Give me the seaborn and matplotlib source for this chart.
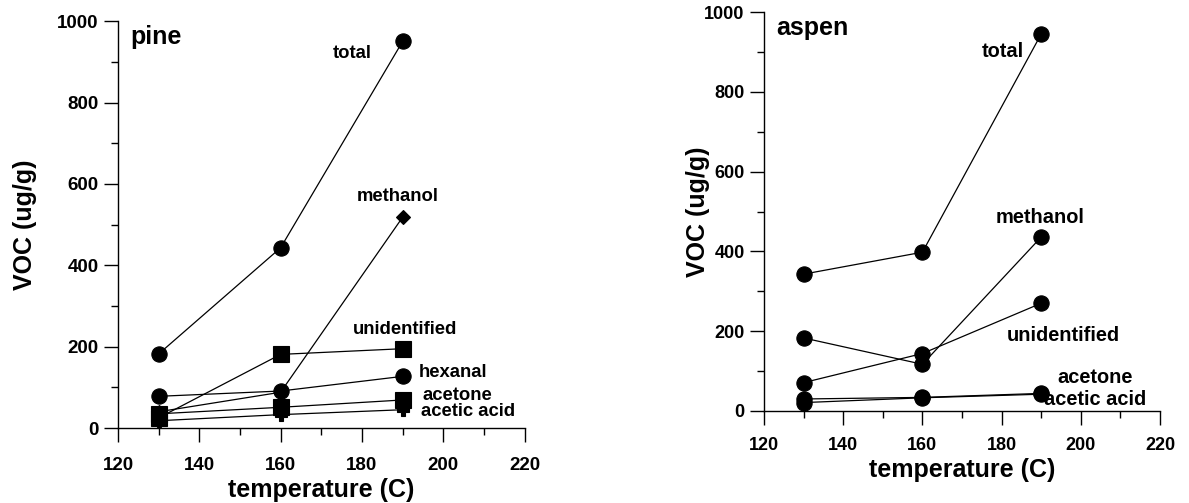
import matplotlib
matplotlib.use("Agg")
import matplotlib.pyplot as plt
import seaborn as sns
import pandas as pd
from matplotlib.ticker import MultipleLocator

sns.set_style("ticks")
plt.rcParams['font.family'] = ['Liberation Sans', 'DejaVu Sans']
plt.rcParams['font.weight'] = 'bold'
plt.rcParams['text.color'] = 'black'
plt.rcParams['axes.labelcolor'] = 'black'
plt.rcParams['xtick.color'] = 'black'
plt.rcParams['ytick.color'] = 'black'
plt.rcParams['axes.edgecolor'] = 'black'

temps = [130, 160, 190]

# pine series (ug/g)
pine_total = [182, 443, 950]
pine_methanol = [40, 88, 518]
pine_unidentified = [25, 181, 195]
pine_hexanal = [78, 91, 127]
pine_acetone = [35, 51, 69]
pine_acetic = [18, 33, 45]

# aspen series (ug/g)
aspen_total = [343, 398, 945]
aspen_methanol = [183, 117, 436]
aspen_unidentified = [71, 144, 270]
aspen_acetone = [30, 34, 44]
aspen_acetic = [21, 33, 42]

pine_series = [
    ("total", pine_total, "o", 11),
    ("methanol", pine_methanol, "D", 7),
    ("unidentified", pine_unidentified, "s", 11),
    ("hexanal", pine_hexanal, "o", 11),
    ("acetone", pine_acetone, "s", 11),
    ("acetic acid", pine_acetic, "P", 9),
]
aspen_series = [
    ("total", aspen_total, "o", 11),
    ("methanol", aspen_methanol, "o", 11),
    ("unidentified", aspen_unidentified, "o", 11),
    ("acetone", aspen_acetone, "o", 11),
    ("acetic acid", aspen_acetic, "o", 11),
]

pine_labels = [
    ("total", 177.5, 921),
    ("methanol", 188.8, 568),
    ("unidentified", 190.5, 243),
    ("hexanal", 202.5, 137),
    ("acetone", 203.5, 81),
    ("acetic acid", 206.0, 40),
]
aspen_labels = [
    ("total", 180.4, 901),
    ("methanol", 189.7, 486),
    ("unidentified", 195.5, 188),
    ("acetone", 203.6, 83),
    ("acetic acid", 203.6, 28),
]

fig = plt.figure(figsize=(11.89, 5.03), dpi=100)
ax1 = fig.add_axes([0.0992, 0.149, 0.342, 0.809])
ax2 = fig.add_axes([0.6426, 0.183, 0.333, 0.793])


def draw(ax, series, labels, title, fs, xpad, ylab_x, xlab_y, tls):
    for name, vals, mk, ms in series:
        df = pd.DataFrame({"temperature": temps, "voc": vals})
        sns.lineplot(data=df, x="temperature", y="voc", ax=ax, color="black",
                     marker=mk, markersize=ms, linewidth=0.9,
                     markeredgecolor="black", markerfacecolor="black",
                     markeredgewidth=0.8)
    for text, x, y in labels:
        ax.text(x, y, text, ha="center", va="center", fontsize=fs,
                fontweight="bold", color="black")
    ax.text(0.03, 0.96, title, transform=ax.transAxes, ha="left", va="center",
            fontsize=18, fontweight="bold", color="black")
    ax.set_xlim(120, 220)
    ax.set_ylim(0, 1000)
    ax.xaxis.set_major_locator(MultipleLocator(20))
    ax.xaxis.set_minor_locator(MultipleLocator(10))
    ax.yaxis.set_major_locator(MultipleLocator(200))
    ax.yaxis.set_minor_locator(MultipleLocator(100))
    ax.tick_params(which="major", length=10, width=1, labelsize=tls, pad=4,
                   direction="out", colors="black")
    ax.tick_params(which="minor", length=5, width=1, direction="out",
                   colors="black")
    ax.tick_params(axis="x", which="major", pad=xpad)
    for lab in ax.get_xticklabels() + ax.get_yticklabels():
        lab.set_fontweight("bold")
    ax.set_xlabel("temperature (C)", fontsize=18, fontweight="bold")
    ax.set_ylabel("VOC (ug/g)", fontsize=18, fontweight="bold")
    ax.xaxis.set_label_coords(0.5, xlab_y)
    ax.yaxis.set_label_coords(ylab_x, 0.5)
    ax.xaxis.label.set_va("center")
    ax.yaxis.label.set_va("center")
    for s in ["top", "right"]:
        ax.spines[s].set_visible(False)
    for s in ["left", "bottom"]:
        ax.spines[s].set_linewidth(1)
        ax.spines[s].set_color("black")
    ax.set_facecolor("white")


draw(ax1, pine_series, pine_labels, "pine", 13.3, 11, -0.2285, -0.152, 13.5)
draw(ax2, aspen_series, aspen_labels, "aspen", 14.4, 8.5, -0.168, -0.148, 13)

fig.savefig("out.png", dpi=100, facecolor="white")
